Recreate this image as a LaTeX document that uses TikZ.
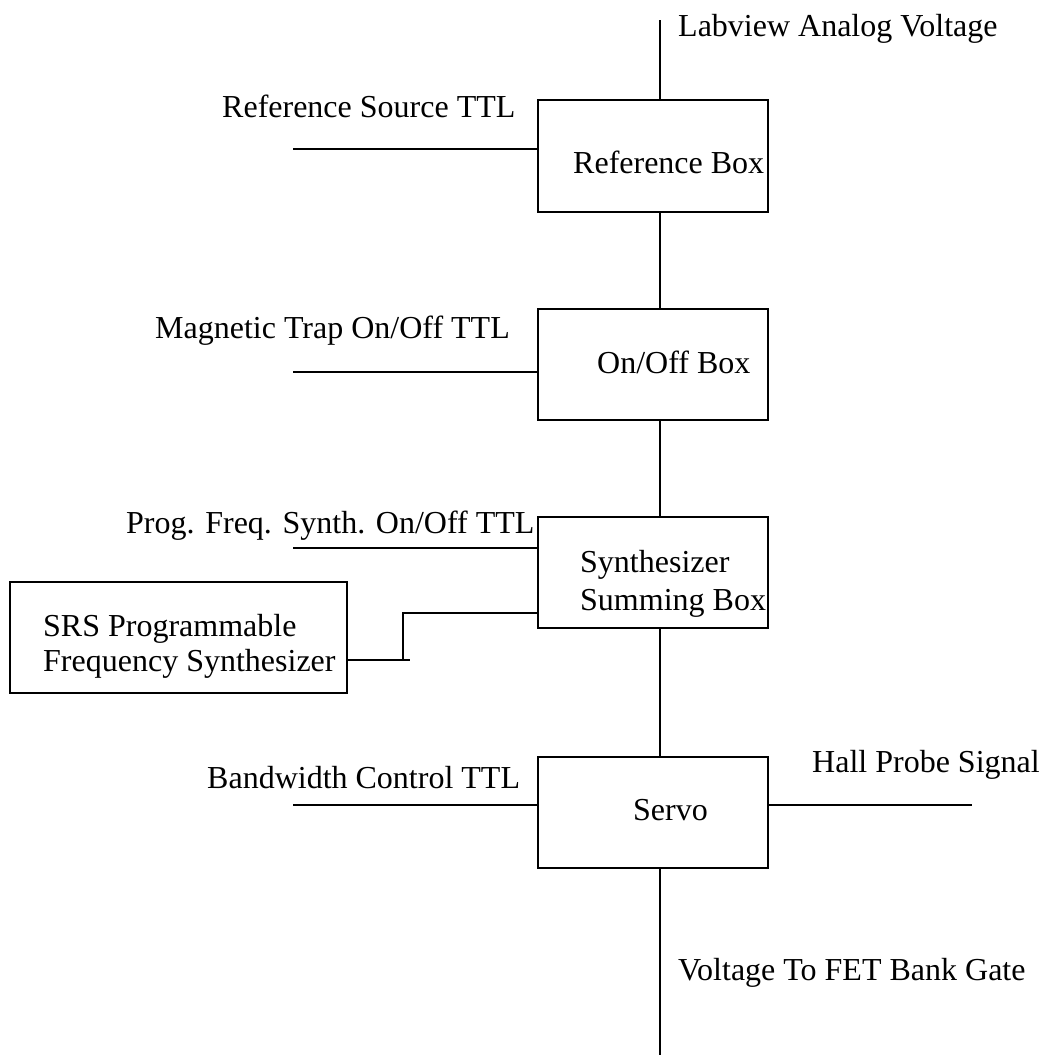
\documentclass[tikz,border=0pt]{standalone}
\usepackage{fontspec}
\setmainfont{Liberation Serif}
\begin{document}
\begin{tikzpicture}[x=1pt,y=-1pt,
  wire/.style={line width=2.3pt},
  blockbox/.style={draw,line width=2.3pt,inner sep=0pt,minimum width=230pt,minimum height=111pt},
  lbl/.style={anchor=base west,inner sep=0pt,font=\fontsize{32}{37}\selectfont}]
\useasboundingbox (0,0) rectangle (1042,1055);

% signal chain blocks
\node[blockbox,minimum height=112pt] (refbox) at (653,156) {};
\node[blockbox] (onoff) at (653,364.5) {};
\node[blockbox] (synth) at (653,572.5) {};
\node[blockbox] (servo) at (653,812.5) {};
\node[blockbox,minimum width=337pt] (srs) at (178.5,637.5) {};

% block texts
\node[lbl] (reft) at (573,173) {Reference Box};
\node[lbl] (onofft) at (597,373) {On/Off Box};
\node[lbl] (syntha) at (580,572) {Synthesizer};
\node[lbl] (synthb) at (580,610) {Summing Box};
\node[lbl] (servot) at (633,820) {Servo};
\node[lbl] (srsa) at (43,636) {SRS Programmable};
\node[lbl] (srsb) at (43,671) {Frequency Synthesizer};

% signal labels
\node[lbl] (labview) at (678,36) {Labview Analog Voltage};
\node[lbl] (refsrc) at (222,117) {Reference Source TTL};
\node[lbl] (magtrap) at (155,338) {Magnetic Trap On/Off TTL};
\node[lbl] (progf) at (126,533) {Prog. Freq. Synth. On/Off TTL};
\node[lbl] (bwctl) at (207,788) {Bandwidth Control TTL};
\node[lbl] (hallt) at (812,772) {Hall Probe Signal};
\node[lbl] (fett) at (678,980) {Voltage To FET Bank Gate};

% free wire ends
\coordinate (top) at (660,20);
\coordinate (bottom) at (660,1055);
\coordinate (in1) at (293,149);
\coordinate (in2) at (293,372);
\coordinate (in3) at (293,548);
\coordinate (in4) at (293,805);
\coordinate (hall) at (972,805);
\coordinate (stub) at (410,660);
\coordinate (bend) at (403,613);

% main trunk
\draw[wire] (top) -- (top |- refbox.north);
\draw[wire] (refbox.south -| top) -- (onoff.north -| top);
\draw[wire] (onoff.south -| top) -- (synth.north -| top);
\draw[wire] (synth.south -| top) -- (servo.north -| top);
\draw[wire] (servo.south -| top) -- (bottom);

% side inputs
\draw[wire] (in1) -- (in1 -| refbox.west);
\draw[wire] (in2) -- (in2 -| onoff.west);
\draw[wire] (in3) -- (in3 -| synth.west);
\draw[wire] (in4) -- (in4 -| servo.west);
\draw[wire] (servo.east |- hall) -- (hall);

% synthesizer feed
\draw[wire] (stub -| srs.east) -- (stub);
\draw[wire] (bend |- stub) -- (bend) -- (bend -| synth.west);
\end{tikzpicture}
\end{document}
